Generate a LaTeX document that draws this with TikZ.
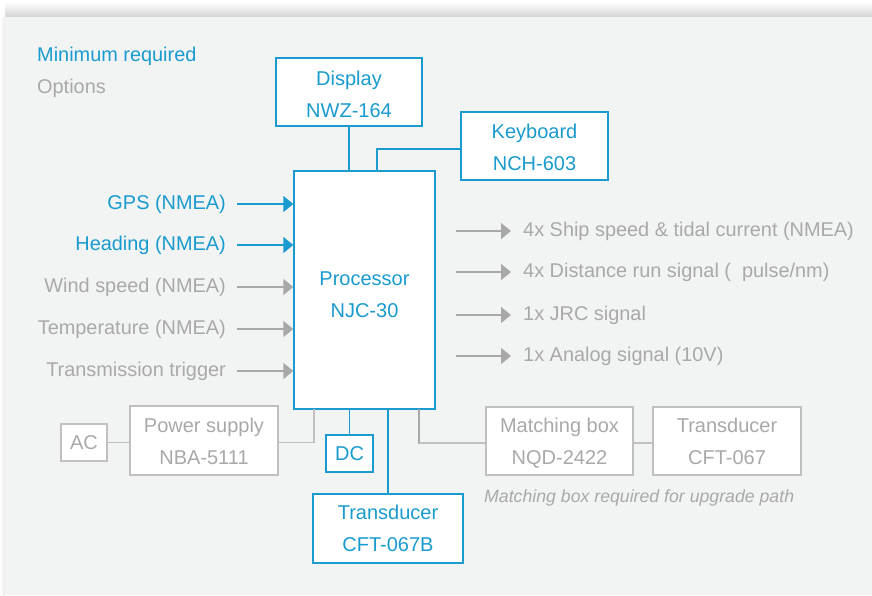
\documentclass[tikz,border=0pt]{standalone}
\usepackage{fontspec}
\setmainfont{Liberation Sans}
\usetikzlibrary{arrows.meta}
\definecolor{cy}{HTML}{1A9BCF}
\definecolor{gt}{HTML}{A9A9A9}
\definecolor{gb}{HTML}{C0C0C0}
\definecolor{ga}{HTML}{A8A8A8}
\definecolor{panel}{HTML}{F2F3F3}
\begin{document}
\begin{tikzpicture}[x=1pt,y=-1pt,
 box/.style={draw, line width=1.4pt, fill=white, align=center, inner sep=0pt, font=\fontsize{20}{32}\selectfont},
 req/.style={box, draw=cy, text=cy},
 opt/.style={box, draw=gb, text=gt},
 lab/.style={inner sep=0pt, font=\fontsize{19.9}{24}\selectfont},
 arr/.style={line width=1.4pt, -{Triangle[length=10pt,width=16pt]}},
 cyl/.style={draw=cy, line width=1.4pt},
 gyl/.style={draw=gb, line width=1.4pt},
]
\useasboundingbox (0,0) rectangle (872,595);
\fill[white] (0,0) rectangle (872,595);
\shade[top color=white, bottom color=black!17] (5,2) rectangle (872,17);
\shade[left color=white, right color=black!8] (0,17) rectangle (5,595);
\fill[panel] (5,17) rectangle (872,595);

\node[lab, anchor=west, text=cy] (legreq) at (37,56) {Minimum required};
\node[lab, anchor=west, text=gt] (legopt) at (37,88) {Options};

\node[req, minimum width=146pt, minimum height=68pt, text height=52pt] (disp) at (349,92) {Display\\NWZ-164};
\node[req, minimum width=147pt, minimum height=68pt, text height=49pt] (kb) at (534.5,146) {Keyboard\\NCH-603};
\node[req, minimum width=141pt, minimum height=238pt, text height=54.5pt] (proc) at (364.5,290) {Processor\\NJC-30};
\node[opt, minimum width=46pt, minimum height=37pt] (ac) at (84,442.5) {AC};
\node[opt, minimum width=148pt, minimum height=69pt, text height=48.5pt] (ps) at (204,440.5) {Power supply\\NBA-5111};
\node[req, minimum width=47pt, minimum height=37pt] (dc) at (349.5,453.5) {DC};
\node[req, minimum width=150pt, minimum height=69pt] (tdb) at (388,528.5) {Transducer\\CFT-067B};
\node[opt, minimum width=147pt, minimum height=68pt, text height=51.5pt] (mbox) at (559.5,441) {Matching box\\NQD-2422};
\node[opt, minimum width=148pt, minimum height=68pt, text height=46.5pt] (td) at (727,441) {Transducer\\CFT-067};
\node[anchor=west, inner sep=0pt, text=gt, font=\itshape\fontsize{17.7}{20}\selectfont] (note) at (484,498) {Matching box required for upgrade path};

% top connections
\coordinate (kbd) at (377,171);
\draw[cyl] (disp.south) -- (disp.south |- proc.north);
\draw[cyl] ([yshift=-3pt]kb.west) -| (kbd);

% inputs
\node[lab, anchor=east, text=cy] (i1) at (226,204) {GPS (NMEA)};
\node[lab, anchor=east, text=cy] (i2) at (226,245) {Heading (NMEA)};
\node[lab, anchor=east, text=gt] (i3) at (226,287) {Wind speed (NMEA)};
\node[lab, anchor=east, text=gt] (i4) at (226,329) {Temperature (NMEA)};
\node[lab, anchor=east, text=gt] (i5) at (226,371) {Transmission trigger};
\draw[arr, cy] ([xshift=11pt]i1.east) -- (i1.east -| proc.west);
\draw[arr, cy] ([xshift=11pt]i2.east) -- (i2.east -| proc.west);
\draw[arr, ga] ([xshift=11pt]i3.east) -- (i3.east -| proc.west);
\draw[arr, ga] ([xshift=11pt]i4.east) -- (i4.east -| proc.west);
\draw[arr, ga] ([xshift=11pt]i5.east) -- (i5.east -| proc.west);

% outputs
\node[lab, anchor=west, text=gt] (o1) at (523,231) {4x Ship speed \& tidal current (NMEA)};
\node[lab, anchor=west, text=gt] (o2) at (523,272) {4x Distance run signal (\hspace{0.55em}pulse/nm)};
\node[lab, anchor=west, text=gt] (o3) at (523,315) {1x JRC signal};
\node[lab, anchor=west, text=gt] (o4) at (523,356) {1x Analog signal (10V)};
\foreach \o in {o1,o2,o3,o4}
  \draw[arr, ga] ([xshift=-67pt]\o.west) -- ([xshift=-12pt]\o.west);

% bottom connections
\coordinate (pwr) at (314,409);
\coordinate (mbc) at (419,409);
\coordinate (mbk) at (419,443);
\draw[gyl] (ac.east) -- (ac.east -| ps.west);
\draw[gyl] (ac.east -| ps.east) -| (pwr);
\draw[cyl] (dc.north) -- (dc.north |- proc.south);
\draw[cyl] (tdb.north) -- (tdb.north |- proc.south);
\draw[draw=ga, line width=2.4pt] (mbc) -- ([yshift=-1pt]mbk);
\draw[gyl] (mbk) -- (mbk -| mbox.west);
\draw[gyl] (mbk -| mbox.east) -- (mbk -| td.west);
\end{tikzpicture}
\end{document}
